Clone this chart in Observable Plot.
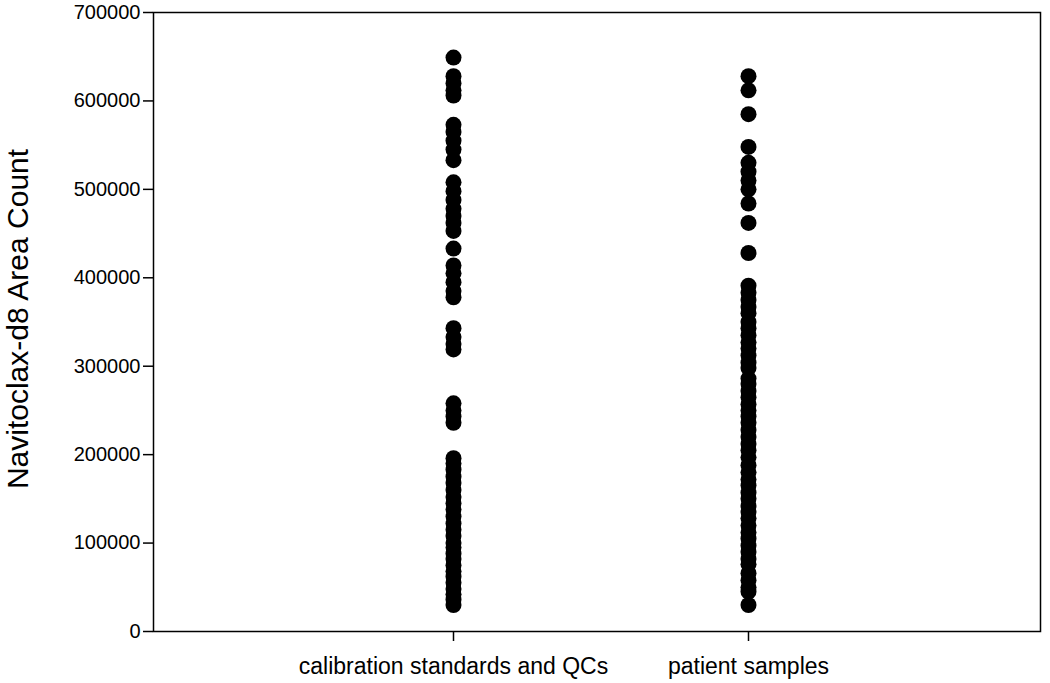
<!DOCTYPE html>
<html>
<head>
<meta charset="utf-8">
<script src="https://cdn.jsdelivr.net/npm/d3@7"></script>
<script src="https://cdn.jsdelivr.net/npm/@observablehq/plot@0.6"></script>
<style>
  html, body { margin: 0; padding: 0; background: #fff; }
  svg { font-family: "Liberation Sans", Arial, sans-serif; }
</style>
</head>
<body>
<div id="chart"></div>
<script>
const categories = ["calibration standards and QCs", "patient samples"];
const calibrationValues = [649000, 628000, 620000, 612000, 606000, 573000, 565000, 555000, 545000, 533000,
  508000, 498000, 488000, 478000, 470000, 462000, 453000, 433000, 414000, 405000, 395000, 385000, 378000,
  343000, 333000, 325000, 319000, 258000, 250000, 243000, 236000,
  196000, 190000, 183000, 175000, 168000, 160000, 152000, 145000, 138000, 130000, 122000, 115000, 108000,
  100000, 95000, 88000, 82000, 75000, 68000, 62000, 55000, 48000, 42000, 36000, 30000];
const patientValues = [628000, 612000, 585000, 548000, 530000, 520000, 510000, 500000, 484000, 462000, 428000,
  391000, 383000, 375000, 367000, 360000, 350000, 343000, 335000, 327000, 320000, 312000, 304000, 298000,
  286000, 280000, 272000, 265000, 257000, 250000, 243000, 236000, 228000, 220000, 212000, 205000, 197000,
  188000, 180000, 172000, 165000, 157000, 150000, 142000, 135000, 128000, 120000, 112000, 105000, 97000,
  90000, 82000, 76000, 66000, 58000, 50000, 45000, 30000];
const yTicks = [0, 100000, 200000, 300000, 400000, 500000, 600000, 700000];
const yTitle = "Navitoclax-d8 Area Count";

const data = [
  ...calibrationValues.map(v => ({group: categories[0], value: v})),
  ...patientValues.map(v => ({group: categories[1], value: v}))
];

const chart = Plot.plot({
  width: 1050,
  height: 683,
  marginLeft: 153,
  marginRight: 10,
  marginTop: 12,
  marginBottom: 52,
  style: {background: "#fff", color: "#000", fontFamily: "'Liberation Sans', Arial, sans-serif"},
  x: {type: "point", domain: categories, padding: 1, align: 0.507},
  y: {domain: [0, 700000]},
  marks: [
    Plot.frame({stroke: "#000", strokeWidth: 1.5}),
    Plot.axisY({ticks: yTicks, tickFormat: d => String(d), tickSize: 10, tickPadding: 3,
      fontSize: 20, label: null, strokeWidth: 1.5}),
    Plot.axisX({tickSize: 10, tickPadding: 16, fontSize: 23, label: null, strokeWidth: 1.5}),
    Plot.text([yTitle], {frameAnchor: "left", textAnchor: "middle", rotate: -90, dx: -135, dy: -3,
      fontSize: 30, fill: "#000"}),
    Plot.dot(data, {x: "group", y: "value", r: 8, fill: "#000", stroke: "none"})
  ]
});
document.getElementById("chart").append(chart);
</script>
</body>
</html>
